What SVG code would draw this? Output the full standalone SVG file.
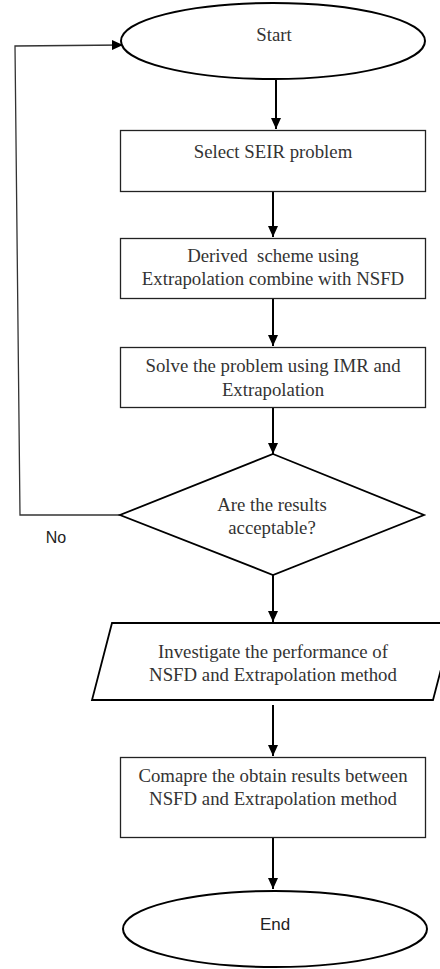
<svg xmlns="http://www.w3.org/2000/svg" width="440" height="969" viewBox="0 0 440 969">
<style>
.shape{fill:#fff;stroke:#222;stroke-width:1.3}
.term{fill:#fff;stroke:#000;stroke-width:2}
.dec{fill:#fff;stroke:#000;stroke-width:1.8}
.t{font-family:"Liberation Serif","Times New Roman",serif;font-size:18.8px;fill:#333;text-anchor:middle}
.s{font-family:"Liberation Sans",Arial,sans-serif;fill:#222;text-anchor:middle}
.c{fill:none;stroke:#000;stroke-width:2}
.fb{fill:none;stroke:#333;stroke-width:1.3}
</style>
<defs>
<marker id="ah" markerUnits="userSpaceOnUse" markerWidth="12" markerHeight="12" viewBox="0 0 12 12" refX="11" refY="6" orient="auto">
<path d="M0,1 L11,6 L0,11 Z" fill="#000"/>
</marker>
</defs>
<rect width="440" height="969" fill="#fff"/>
<g id="connectors">
<line class="c" x1="276" y1="80" x2="276" y2="129" marker-end="url(#ah)"/>
<line class="c" x1="273" y1="192" x2="273" y2="237" marker-end="url(#ah)"/>
<line class="c" x1="273" y1="298" x2="273" y2="346" marker-end="url(#ah)"/>
<line class="c" x1="273" y1="408" x2="273" y2="454" marker-end="url(#ah)"/>
<line class="c" x1="273" y1="575" x2="273" y2="622" marker-end="url(#ah)"/>
<line class="c" x1="273" y1="705" x2="273" y2="756" marker-end="url(#ah)"/>
<line class="c" x1="273" y1="838" x2="273" y2="889" marker-end="url(#ah)"/>
<polyline class="fb" points="120,515 20,515 15,46 123,45" marker-end="url(#ah)"/>
<text class="s" x="56" y="543" font-size="16">No</text>
</g>
<g id="start">
<ellipse class="term" cx="273" cy="41" rx="152" ry="38"/>
<text class="t" x="274" y="41" font-size="18">Start</text>
</g>
<g id="select">
<rect class="shape" x="120.5" y="130.5" width="305" height="61"/>
<text class="t" x="273" y="158">Select SEIR problem</text>
</g>
<g id="derive">
<rect class="shape" x="120.5" y="238.5" width="305" height="60"/>
<text class="t" x="273" y="262" xml:space="preserve">Derived  scheme using</text>
<text class="t" x="273" y="285">Extrapolation combine with NSFD</text>
</g>
<g id="solve">
<rect class="shape" x="120.5" y="347.5" width="305" height="60"/>
<text class="t" x="273" y="372">Solve the problem using IMR and</text>
<text class="t" x="273" y="396">Extrapolation</text>
</g>
<g id="decision">
<polygon class="dec" points="273,454 424,515 273,575 120,515"/>
<text class="t" x="272" y="511">Are the results</text>
<text class="t" x="272" y="534">acceptable?</text>
</g>
<g id="investigate">
<polygon class="dec" points="112,623 453,623 433,700 92,700"/>
<text class="t" x="273" y="658">Investigate the performance of</text>
<text class="t" x="273" y="681">NSFD and Extrapolation method</text>
</g>
<g id="compare">
<rect class="shape" x="120.5" y="757.5" width="305" height="80"/>
<text class="t" x="273" y="782">Comapre the obtain results between</text>
<text class="t" x="273" y="805">NSFD and Extrapolation method</text>
</g>
<g id="end">
<ellipse class="term" cx="275" cy="929" rx="152" ry="38"/>
<text class="s" x="275" y="930" font-size="17">End</text>
</g>
</svg>
